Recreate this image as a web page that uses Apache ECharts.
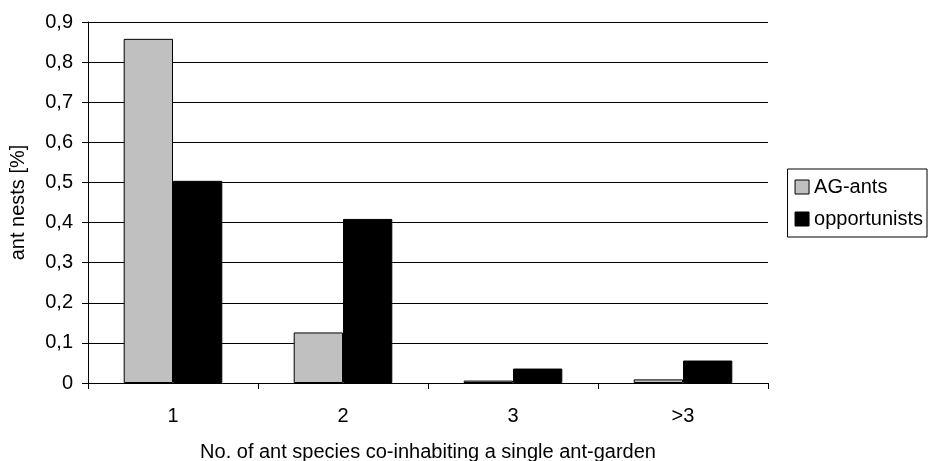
<!DOCTYPE html>
<html>
<head>
<meta charset="utf-8">
<script src="https://cdn.jsdelivr.net/npm/echarts@6/dist/echarts.min.js"></script>
<style>
  html, body { margin: 0; padding: 0; background: #fff; }
  #chart { width: 928px; height: 461px; }
</style>
</head>
<body>
<div id="chart"></div>
<script>
const categories = ['1', '2', '3', '>3']
const agAnts = [0.858, 0.126, 0.006, 0.009]
const opportunists = [0.504, 0.409, 0.036, 0.056]
const yTicks = [0, 0.1, 0.2, 0.3, 0.4, 0.5, 0.6, 0.7, 0.8, 0.9]

const font = 'Liberation Sans, Arial, sans-serif'
const chart = echarts.init(document.getElementById('chart'))

const option = {
  animation: false,
  textStyle: { fontFamily: font },
  grid: {
    left: 88,
    right: 160,
    top: 22,
    bottom: 78,
    containLabel: false,
    outerBoundsMode: 'none',
  },
  legend: {
    orient: 'vertical',
    right: 1,
    top: 169,
    width: 139,
    padding: [8, 4, 8, 7],
    borderColor: '#000',
    borderWidth: 1,
    itemWidth: 14,
    itemHeight: 14,
    itemGap: 12,
    align: 'left',
    textStyle: { fontSize: 20, color: '#000', fontFamily: font, padding: [0, 0, 0, 0] },
    data: [
      { name: 'AG-ants', icon: 'rect', itemStyle: { borderColor: '#000', borderWidth: 1 } },
      { name: 'opportunists', icon: 'rect', itemStyle: { borderColor: '#000', borderWidth: 1 } },
    ],
  },
  xAxis: {
    type: 'category',
    data: categories,
    name: 'No. of ant species co-inhabiting a single ant-garden',
    nameLocation: 'middle',
    nameGap: 59,
    nameTextStyle: { fontSize: 20, color: '#000', fontFamily: font },
    axisLine: { lineStyle: { color: '#000', width: 1 } },
    axisTick: { show: true, length: 6, lineStyle: { color: '#000' } },
    axisLabel: { fontSize: 20, color: '#000', margin: 23 },
  },
  yAxis: {
    type: 'value',
    min: yTicks[0],
    max: yTicks[yTicks.length - 1],
    interval: 0.1,
    name: 'ant nests [%]',
    nameLocation: 'middle',
    nameGap: 60,
    nameTextStyle: { fontSize: 20, color: '#000', fontFamily: font },
    axisLine: { show: true, lineStyle: { color: '#000', width: 1 } },
    axisTick: { show: true, length: 6, lineStyle: { color: '#000' } },
    axisLabel: {
      fontSize: 20,
      color: '#000',
      margin: 15,
      formatter: v => {
        const r = Math.round(v * 10) / 10
        return r === 0 ? '0' : String(r).replace('.', ',')
      },
    },
    splitLine: { show: true, lineStyle: { color: '#000', width: 1 } },
  },
  series: [
    {
      name: 'AG-ants',
      type: 'bar',
      data: agAnts,
      barGap: '0%',
      barCategoryGap: '42%',
      itemStyle: { color: '#c0c0c0', borderColor: '#000', borderWidth: 1 },
    },
    {
      name: 'opportunists',
      type: 'bar',
      data: opportunists,
      barGap: '0%',
      barCategoryGap: '42%',
      itemStyle: { color: '#000', borderColor: '#000', borderWidth: 1 },
    },
  ],
}

chart.setOption(option)
</script>
</body>
</html>
